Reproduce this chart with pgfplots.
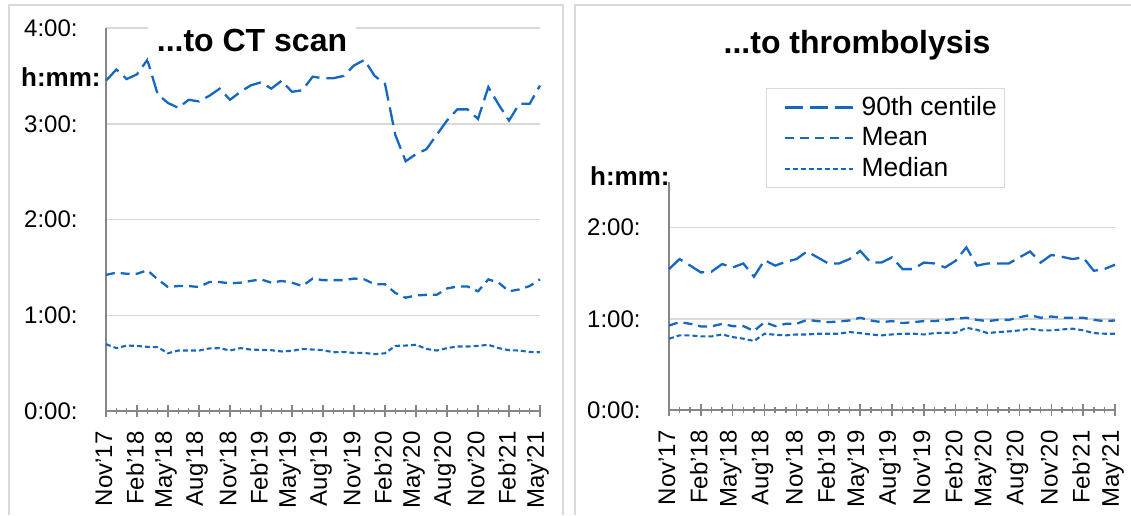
\documentclass[border=0pt]{standalone}
\usepackage{pgfplots}
\pgfplotsset{compat=1.18}
\usepackage{pgfplotstable}
\usepackage{fontspec}
\setmainfont{Liberation Sans}
\definecolor{sblue}{RGB}{21,104,192}
\definecolor{gridc}{RGB}{217,217,217}
\definecolor{axc}{RGB}{134,134,134}
\newcommand\tfs{\fontsize{12}{14}\selectfont}
\newcommand\lfs{\fontsize{13.2}{15}\selectfont}

\pgfplotstableread{
i p90 mean med
0 207 85.3 41.9
1 214 86.7 39.4
2 208 86 41
3 211 86 40.8
4 220 88.2 40.2
5 198.5 82.5 40
6 193 77.7 36.2
7 190 78.3 37.9
8 195 78.3 37.9
9 194 77.7 37.9
10 197.5 80.8 39.2
11 202 80.8 39.4
12 195 80 37.9
13 200 80.4 39.4
14 204 81.5 38.5
15 206 82.5 38.3
16 202 80.4 38.1
17 207 81.5 37.3
18 200 80.4 37.7
19 201 78.3 38.9
20 209.5 83 38.5
21 208.5 82 38.1
22 208.5 82 36.8
23 210 82 37
24 216.5 83 36.4
25 220 82.5 36.4
26 210 79.4 35.6
27 205 79.4 36.2
28 173 74 40.8
29 156.5 71 41
30 161 72.4 41.5
31 164 72.8 38.9
32 173 72.8 37.9
33 182 76.8 39.4
34 189 78 40.4
35 189 78 40.4
36 183 75 40.8
37 203 82.5 41.5
38 192 80.4 39.4
39 182 75 38.1
40 192.5 76.2 37.9
41 192.5 78.3 37
42 204 82.5 36.8
}\ctdata

\pgfplotstableread{
i p90 mean med
0 92.7 55.6 46.9
1 99.3 57.8 49.1
2 95 56.7 49.1
3 90.5 55 48.4
4 91 55 48.4
5 96 56.7 49.7
6 93.8 55.2 48
7 96.4 55.2 46.9
8 87.7 52 45.4
9 98.6 57.8 50.2
10 95 55.2 49.5
11 97.5 56.7 49.1
12 99.3 56.7 49.7
13 104.3 59.3 49.7
14 100.4 58.5 50.2
15 96.4 57.8 50.2
16 96.4 58.3 50.2
17 99.3 58.9 51.3
18 104.7 60.7 50.6
19 97 58.9 49.7
20 97 57.8 49.1
21 100.4 58.5 49.7
22 92.7 57.2 50.2
23 92.7 57.8 50.2
24 97 58.5 49.7
25 96.4 58.5 50.6
26 93.8 59.3 50.8
27 98.2 60 50.8
28 107 60.7 54.1
29 95 59.3 52.8
30 96.4 58.5 50.6
31 96.4 59.3 51.3
32 96.4 59.3 51.7
33 100.4 61 52.4
34 104.3 62.4 53.5
35 97 60.7 52.4
36 102 61.5 52.4
37 100.8 60.7 53
38 99.3 60.7 53.5
39 100.4 60.7 52.4
40 91.6 59.3 50.6
41 92.7 58.5 50.2
42 95.6 58.9 50.2
}\thrdata

\tikzset{
  p90/.style={sblue, line width=1.15pt, dash pattern=on 9pt off 3.5pt},
  pmean/.style={sblue, line width=1.15pt, dash pattern=on 4.5pt off 3pt},
  pmed/.style={sblue, line width=1.05pt, dash pattern=on 2.5pt off 1.5pt},
}

\pgfplotsset{
  panel/.style={
    scale only axis, axis lines*=left,
    xmin=0, xmax=42, ymin=0,
    axis line style={axc, line width=0.75pt},
    xtick={0,3,...,42}, minor x tick num=2,
    xticklabels={Nov'17,Feb'18,May'18,Aug'18,Nov'18,Feb'19,May'19,Aug'19,Nov'19,Feb'20,May'20,Aug'20,Nov'20,Feb'21,May'21},
    x tick label style={yshift=-7pt, xshift=-1pt, rotate=90, anchor=east, inner sep=0pt, font=\tfs},
    y tick label style={font=\tfs, inner sep=0pt, xshift=-11pt},
    ymajorgrids, grid style={gridc, line width=0.75pt},
    tick align=center, major tick length=6pt, minor tick length=3pt,
    xtick style={axc, line width=0.75pt}, ytick style={draw=none},
    clip=false,
  },
}

\begin{document}
\begin{tikzpicture}
\useasboundingbox (0,0) rectangle (565.5pt,-257.5pt);

\begin{axis}[panel, at={(53pt,-205.5pt)}, anchor=south west,
  width=217pt, height=191.5pt, ymax=240,
  ytick={0,60,120,180,240}, yticklabels={0:00:,1:00:,2:00:,3:00:,4:00:}]
\addplot[p90] table[x=i, y=p90] {\ctdata};
\addplot[pmean] table[x=i, y=mean] {\ctdata};
\addplot[pmed] table[x=i, y=med] {\ctdata};
\end{axis}

\begin{axis}[panel, at={(334.5pt,-205pt)}, anchor=south west,
  width=223pt, height=114pt, ymax=150,
  ytick={0,60,120}, yticklabels={0:00:,1:00:,2:00:},
  legend style={at={(0.2175,1.412)}, anchor=north west, draw=gridc,
    font=\lfs, row sep=2.5pt, column sep=3pt, inner xsep=3pt, inner ysep=3pt,
    nodes={inner sep=1pt}},
  legend cell align=left,
  legend image code/.code={\draw[#1] (0pt,0pt) -- (34pt,0pt); \path (-5.5pt,0pt);}]
\addplot[p90] table[x=i, y=p90] {\thrdata};
\addlegendentry{90th centile}
\addplot[pmean] table[x=i, y=mean] {\thrdata};
\addlegendentry{Mean}
\addplot[pmed] table[x=i, y=med] {\thrdata};
\addlegendentry{Median}
\end{axis}

\node[fill=white, anchor=base, inner xsep=4.5pt, inner ysep=5pt, font=\bfseries\fontsize{16}{19}\selectfont] at (126pt,-25.5pt) {...to CT scan};
\node[fill=white, anchor=base, inner xsep=4.5pt, font=\bfseries\fontsize{16}{19}\selectfont] at (428.5pt,-26.5pt) {...to thrombolysis};
\node[anchor=east, inner sep=0pt, font=\bfseries\fontsize{13}{15}\selectfont] at (50.5pt,-38.75pt) {h:mm:};
\node[anchor=east, inner sep=0pt, font=\bfseries\fontsize{13}{15}\selectfont] at (335pt,-88.25pt) {h:mm:};

\draw[gridc, line width=1pt] (4.5pt,-257.5pt) -- (4.5pt,-2.5pt) -- (281.5pt,-2.5pt) -- (281.5pt,-257.5pt);
\draw[gridc, line width=1pt] (287.5pt,-257.5pt) -- (287.5pt,-2.5pt) -- (565.5pt,-2.5pt);
\end{tikzpicture}
\end{document}
